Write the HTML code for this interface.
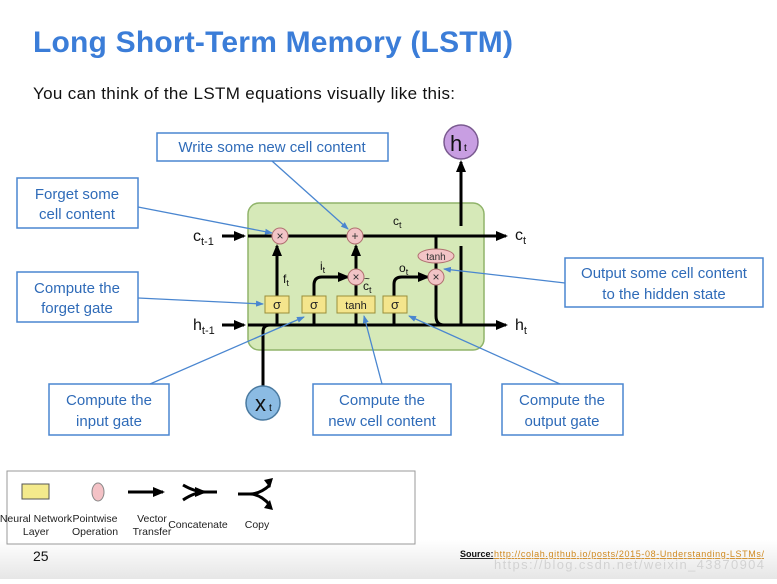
<!DOCTYPE html>
<html><head><meta charset="utf-8"><style>
body{margin:0;width:777px;height:579px;overflow:hidden;background:#fff;font-family:"Liberation Sans","DejaVu Sans",sans-serif}
</style></head><body>
<svg width="777" height="579" viewBox="0 0 777 579" xmlns="http://www.w3.org/2000/svg" font-family="Liberation Sans, DejaVu Sans, sans-serif">
<defs>
<linearGradient id="bg" x1="0" y1="0" x2="0" y2="1"><stop offset="0" stop-color="#fff"/><stop offset="1" stop-color="#e6e6e6"/></linearGradient>
<marker id="ah" markerWidth="12" markerHeight="12" refX="10" refY="6" orient="auto" markerUnits="userSpaceOnUse"><path d="M0,1 L12,6 L0,11 z" fill="#000"/></marker>
<marker id="bh" markerWidth="8" markerHeight="8" refX="7" refY="4" orient="auto" markerUnits="userSpaceOnUse"><path d="M0,1 L8,4 L0,7 z" fill="#4a86d0"/></marker>
</defs>
<rect x="0" y="540" width="777" height="39" fill="url(#bg)"/>
<text x="33" y="52" font-size="30" font-weight="bold" fill="#3b7dd8" textLength="480">Long Short-Term Memory (LSTM)</text>
<text x="33" y="99" font-size="17" fill="#111" textLength="422">You can think of the LSTM equations visually like this:</text>

<rect x="248" y="203" width="236" height="147" rx="11" fill="#d6e9b8" stroke="#90b46a" stroke-width="1.5"/>

<g stroke="#000" stroke-width="3" fill="none">
<line x1="222" y1="236" x2="244" y2="236" marker-end="url(#ah)"/>
<line x1="248" y1="236" x2="506" y2="236" marker-end="url(#ah)"/>
<line x1="222" y1="325" x2="244" y2="325" marker-end="url(#ah)"/>
<line x1="248" y1="325" x2="506" y2="325" marker-end="url(#ah)"/>
<path d="M263 386 V332 Q263 325 270 325"/>
<line x1="277" y1="296" x2="277" y2="246" marker-end="url(#ah)"/>
<line x1="277" y1="325" x2="277" y2="312"/>
<path d="M314 325 V285 Q314 277 322 277 H348" marker-end="url(#ah)"/>
<line x1="356" y1="296" x2="356" y2="285"/>
<line x1="356" y1="325" x2="356" y2="312"/>
<line x1="356" y1="270" x2="356" y2="246" marker-end="url(#ah)"/>
<path d="M394 296 V284 Q394 277 402 277 H428" marker-end="url(#ah)"/>
<line x1="394" y1="325" x2="394" y2="312"/>
<line x1="436" y1="236" x2="436" y2="250"/>
<line x1="436" y1="262" x2="436" y2="270"/>
<path d="M436 284 V316 Q436 325 444 325"/>
<path d="M461 325 V246 M461 226 V162" marker-end="url(#ah)"/>
</g>

<g fill="#f2c4c6" stroke="#b07070" stroke-width="1">
<circle cx="280" cy="236" r="8"/><circle cx="355" cy="236" r="8"/>
<circle cx="356" cy="277" r="8"/><circle cx="436" cy="277" r="8"/>
<ellipse cx="436" cy="256" rx="18" ry="7"/>
</g>
<g font-size="12" text-anchor="middle" fill="#333">
<text x="280" y="240">×</text><text x="355" y="240">+</text><text x="356" y="281">×</text><text x="436" y="281">×</text>
<text x="436" y="260" font-size="10">tanh</text>
</g>
<g fill="#f4e58c" stroke="#9b8f3a" stroke-width="1">
<rect x="265" y="296" width="24" height="17"/><rect x="302" y="296" width="24" height="17"/>
<rect x="337" y="296" width="38" height="17"/><rect x="383" y="296" width="24" height="17"/>
</g>
<g font-size="13" text-anchor="middle" fill="#222">
<text x="277" y="309">σ</text><text x="314" y="309">σ</text><text x="356" y="309" font-size="11">tanh</text><text x="395" y="309">σ</text>
</g>
<circle cx="263" cy="403" r="17" fill="#8bbbe3" stroke="#4a7aa0" stroke-width="1.5"/>
<text x="255" y="411" font-size="22" fill="#111">x</text><text x="269" y="411" font-size="10">t</text>
<circle cx="461" cy="142" r="17" fill="#c89ee2" stroke="#7a5a90" stroke-width="1.5"/>
<text x="450" y="151" font-size="22" fill="#111">h</text><text x="464" y="151" font-size="10">t</text>

<g font-size="16" fill="#111">
<text x="193" y="241">c<tspan font-size="11" dy="4">t-1</tspan></text>
<text x="193" y="330">h<tspan font-size="11" dy="4">t-1</tspan></text>
<text x="515" y="240">c<tspan font-size="11" dy="4">t</tspan></text>
<text x="515" y="330">h<tspan font-size="11" dy="4">t</tspan></text>
</g>
<g font-size="12" fill="#111">
<text x="393" y="225">c<tspan font-size="9" dy="3">t</tspan></text>
<text x="283" y="283">f<tspan font-size="9" dy="3">t</tspan></text>
<text x="320" y="270">i<tspan font-size="9" dy="3">t</tspan></text>
<text x="399" y="272">o<tspan font-size="9" dy="3">t</tspan></text>
<text x="363" y="290">c<tspan font-size="9" dy="3">t</tspan></text><text x="364" y="282" font-size="10">~</text>
</g>

<g fill="#fff" stroke="#4a86d0" stroke-width="1.5">
<rect x="157" y="133" width="231" height="28"/>
<rect x="17" y="178" width="121" height="50"/>
<rect x="17" y="272" width="121" height="50"/>
<rect x="565" y="258" width="198" height="49"/>
<rect x="49" y="384" width="120" height="51"/>
<rect x="313" y="384" width="138" height="51"/>
<rect x="502" y="384" width="121" height="51"/>
</g>
<g font-size="15" fill="#2f6bb8" text-anchor="middle">
<text x="272" y="152">Write some new cell content</text>
<text x="77" y="199">Forget some</text><text x="77" y="219">cell content</text>
<text x="77" y="293">Compute the</text><text x="77" y="313">forget gate</text>
<text x="664" y="278">Output some cell content</text><text x="664" y="299">to the hidden state</text>
<text x="109" y="405">Compute the</text><text x="109" y="426">input gate</text>
<text x="382" y="405">Compute the</text><text x="382" y="426">new cell content</text>
<text x="562" y="405">Compute the</text><text x="562" y="426">output gate</text>
</g>
<g stroke="#4a86d0" stroke-width="1.3">
<line x1="272" y1="161" x2="348" y2="229" marker-end="url(#bh)"/>
<line x1="138" y1="207" x2="272" y2="233" marker-end="url(#bh)"/>
<line x1="138" y1="298" x2="263" y2="304" marker-end="url(#bh)"/>
<line x1="565" y1="283" x2="444" y2="269" marker-end="url(#bh)"/>
<line x1="150" y1="384" x2="304" y2="317" marker-end="url(#bh)"/>
<line x1="382" y1="384" x2="364" y2="316" marker-end="url(#bh)"/>
<line x1="560" y1="384" x2="409" y2="316" marker-end="url(#bh)"/>
</g>

<rect x="7" y="471" width="408" height="73" fill="#fff" stroke="#999" stroke-width="1"/>
<rect x="22" y="484" width="27" height="15" fill="#f4ea8c" stroke="#555"/>
<ellipse cx="98" cy="492" rx="6" ry="9" fill="#f4c2c6" stroke="#888"/>
<g stroke="#000" stroke-width="3" fill="none">
<line x1="128" y1="492" x2="163" y2="492" marker-end="url(#ah)"/>
<path d="M183 485 Q195 492 205 492 H217 M183 500 Q195 492 205 492" marker-end="url(#ah)"/>
<path d="M238 494 H250 Q260 494 270 485 M250 494 Q260 494 270 505"/>
</g>
<path d="M264 480 L273 478 L270 488 z M264 508 L273 510 L270 500 z" fill="#000"/>
<g font-size="10.5" fill="#222" text-anchor="middle">
<text x="36" y="522">Neural Network</text><text x="36" y="535">Layer</text>
<text x="95" y="522">Pointwise</text><text x="95" y="535">Operation</text>
<text x="152" y="522">Vector</text><text x="152" y="535">Transfer</text>
<text x="198" y="528">Concatenate</text>
<text x="257" y="528">Copy</text>
</g>
<text x="33" y="561" font-size="14" fill="#111">25</text>
<text x="460" y="557" font-size="9" font-weight="bold" fill="#111" text-decoration="underline">Source:</text>
<text x="494" y="557" font-size="9" fill="#d08a20" text-decoration="underline" textLength="270">http://colah.github.io/posts/2015-08-Understanding-LSTMs/</text>
<text x="494" y="569" font-size="13" fill="#ccc" opacity="0.8" textLength="270">https://blog.csdn.net/weixin_43870904</text>
</svg>
</body></html>
